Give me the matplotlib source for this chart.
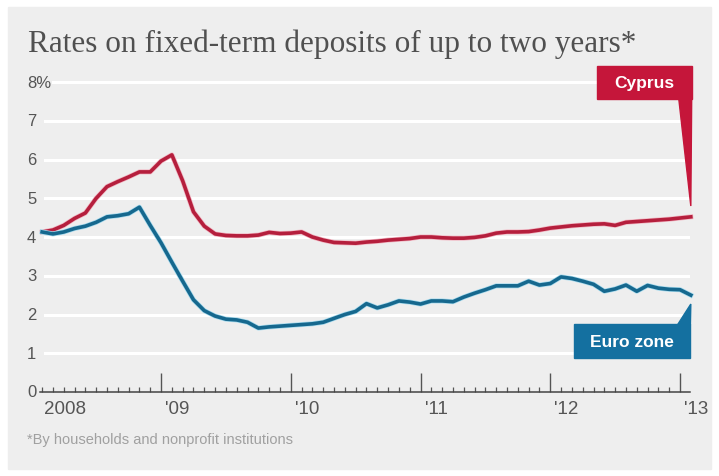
import matplotlib
matplotlib.use("Agg")
import matplotlib.pyplot as plt
import matplotlib.transforms as mtransforms
from matplotlib import font_manager
from matplotlib.patches import Rectangle, Polygon
import matplotlib.patheffects as pe

# monthly rates, Jan 2008 .. Jan 2013 (%)
cyprus = [4.13, 4.18, 4.30, 4.48, 4.62, 5.00, 5.30, 5.43, 5.55, 5.68, 5.68, 5.96,
          6.12, 5.45, 4.65, 4.28, 4.08, 4.04, 4.03, 4.03, 4.05, 4.12, 4.09, 4.10,
          4.13, 4.00, 3.92, 3.86, 3.85, 3.84, 3.87, 3.89, 3.92, 3.94, 3.96, 4.00,
          4.00, 3.98, 3.97, 3.97, 3.99, 4.03, 4.10, 4.13, 4.13, 4.14, 4.18, 4.23,
          4.26, 4.29, 4.31, 4.33, 4.34, 4.30, 4.38, 4.40, 4.42, 4.44, 4.46, 4.49,
          4.52]
euro_zone = [4.13, 4.08, 4.13, 4.22, 4.28, 4.38, 4.52, 4.55, 4.60, 4.77, 4.30, 3.85,
             3.35, 2.86, 2.38, 2.10, 1.96, 1.88, 1.86, 1.80, 1.65, 1.68, 1.70, 1.72,
             1.74, 1.76, 1.80, 1.90, 2.00, 2.08, 2.28, 2.17, 2.25, 2.35, 2.32, 2.27,
             2.35, 2.35, 2.33, 2.45, 2.55, 2.64, 2.74, 2.74, 2.74, 2.86, 2.76, 2.80,
             2.97, 2.93, 2.86, 2.78, 2.60, 2.66, 2.76, 2.60, 2.75, 2.68, 2.65, 2.64,
             2.50]
months = [2008 + (i + 1) / 12 for i in range(len(cyprus))]

y_ticks = [0, 1, 2, 3, 4, 5, 6, 7, 8]
y_labels = ["0", "1", "2", "3", "4", "5", "6", "7", "8%"]
year_ticks = [2009, 2010, 2011, 2012, 2013]
year_labels = ["2008", "'09", "'10", "'11", "'12", "'13"]

title = "Rates on fixed-term deposits of up to two years*"
note = "*By households and nonprofit institutions"

RED_LINE = "#b51f3d"
BLUE_LINE = "#16688e"
RED_BOX = "#c5163a"
BLUE_BOX = "#1470a0"

names = {f.name for f in font_manager.fontManager.ttflist}
sans = "Liberation Sans Narrow" if "Liberation Sans Narrow" in names else "Liberation Sans"

W, H = 719, 477
fig = plt.figure(figsize=(W / 100, H / 100), dpi=100)
fig.patch.set_facecolor("white")
fig.add_artist(Rectangle((8 / W, 1 - 470 / H), 703 / W, 462 / H,
                         transform=fig.transFigure, color="#eeeeee", zorder=0))

fig.text(28 / W, 1 - 52 / H, title, family="Liberation Serif", fontsize=22.5,
         color="#505050", va="baseline", ha="left")
fig.text(27 / W, 1 - 440 / H, note, family=sans, fontsize=10.5,
         color="#a0a0a0", va="center", ha="left")

ax = fig.add_axes([40 / W, 84 / H, 650 / W, 321.6 / H])
ax.patch.set_visible(False)
ax.set_xlim(2008.067, 2013.077)
ax.set_ylim(0, 8.3)

for s in ["top", "right", "left"]:
    ax.spines[s].set_visible(False)
ax.spines["bottom"].set_color("#444444")
ax.spines["bottom"].set_linewidth(1.1)

# horizontal white grid
for v in y_ticks[1:]:
    ax.axhline(v, xmin=0.02 if v == 8 else 0.008, xmax=0.997,
               color="white", lw=2.2, zorder=1)

ax.set_yticks([])
ax.set_xticks(year_ticks)
ax.set_xticks([2008 + m / 12 for m in range(1, 61) if m % 12], minor=True)
ax.tick_params(axis="x", which="both", direction="in", colors="#555555",
               labelbottom=False)
ax.tick_params(axis="x", which="major", length=14, width=1)
ax.tick_params(axis="x", which="minor", length=3.5, width=0.9)

ytrans = mtransforms.blended_transform_factory(ax.transAxes, ax.transData)
for v, lab in zip(y_ticks, y_labels):
    ax.text(-13 / 650, v, lab, transform=ytrans, family=sans, fontsize=12,
            color="#555555", ha="left", va="center")

xtrans = mtransforms.blended_transform_factory(ax.transData, ax.transAxes)
off = mtransforms.ScaledTranslation(4 / 100, -17 / 100, fig.dpi_scale_trans)
for x, lab in zip([2008.067] + year_ticks, year_labels):
    ax.text(x, 0, lab, transform=xtrans + off, family=sans, fontsize=13.5,
            color="#555555", ha="left", va="center")

ax.plot(months, cyprus, color=RED_LINE, lw=2.6, zorder=3, clip_on=False,
        solid_joinstyle="round",
        path_effects=[pe.Stroke(linewidth=3.6, foreground="#f2b8c4"), pe.Normal()])
ax.plot(months, euro_zone, color=BLUE_LINE, lw=2.6, zorder=3, clip_on=False,
        solid_joinstyle="round",
        path_effects=[pe.Stroke(linewidth=3.6, foreground="#a8dcef"), pe.Normal()])

# callout labels with pointers to the last value
x_end = months[-1]
ax.add_patch(Rectangle((2012.36, 7.56), 2013.09 - 2012.36, 0.85, color=RED_BOX,
                       clip_on=False, zorder=4))
ax.add_patch(Polygon([(2012.99, 7.58), (2013.09, 7.58), (x_end, cyprus[-1] + 0.28)],
                     closed=True, color=RED_BOX, clip_on=False, zorder=4))
ax.text((2012.36 + 2013.09) / 2, 7.985, "Cyprus", color="white", fontsize=12.5,
        fontweight="bold", family="Liberation Sans", ha="center", va="center",
        zorder=5)

ax.add_patch(Rectangle((2012.18, 0.88), 2013.08 - 2012.18, 0.87, color=BLUE_BOX,
                       clip_on=False, zorder=4))
ax.add_patch(Polygon([(2012.98, 1.73), (2013.08, 1.73), (x_end, euro_zone[-1] - 0.23)],
                     closed=True, color=BLUE_BOX, clip_on=False, zorder=4))
ax.text((2012.18 + 2013.08) / 2, 1.315, "Euro zone", color="white", fontsize=12.5,
        fontweight="bold", family="Liberation Sans", ha="center", va="center",
        zorder=5)

fig.savefig("out.png", dpi=100, facecolor=fig.get_facecolor())
